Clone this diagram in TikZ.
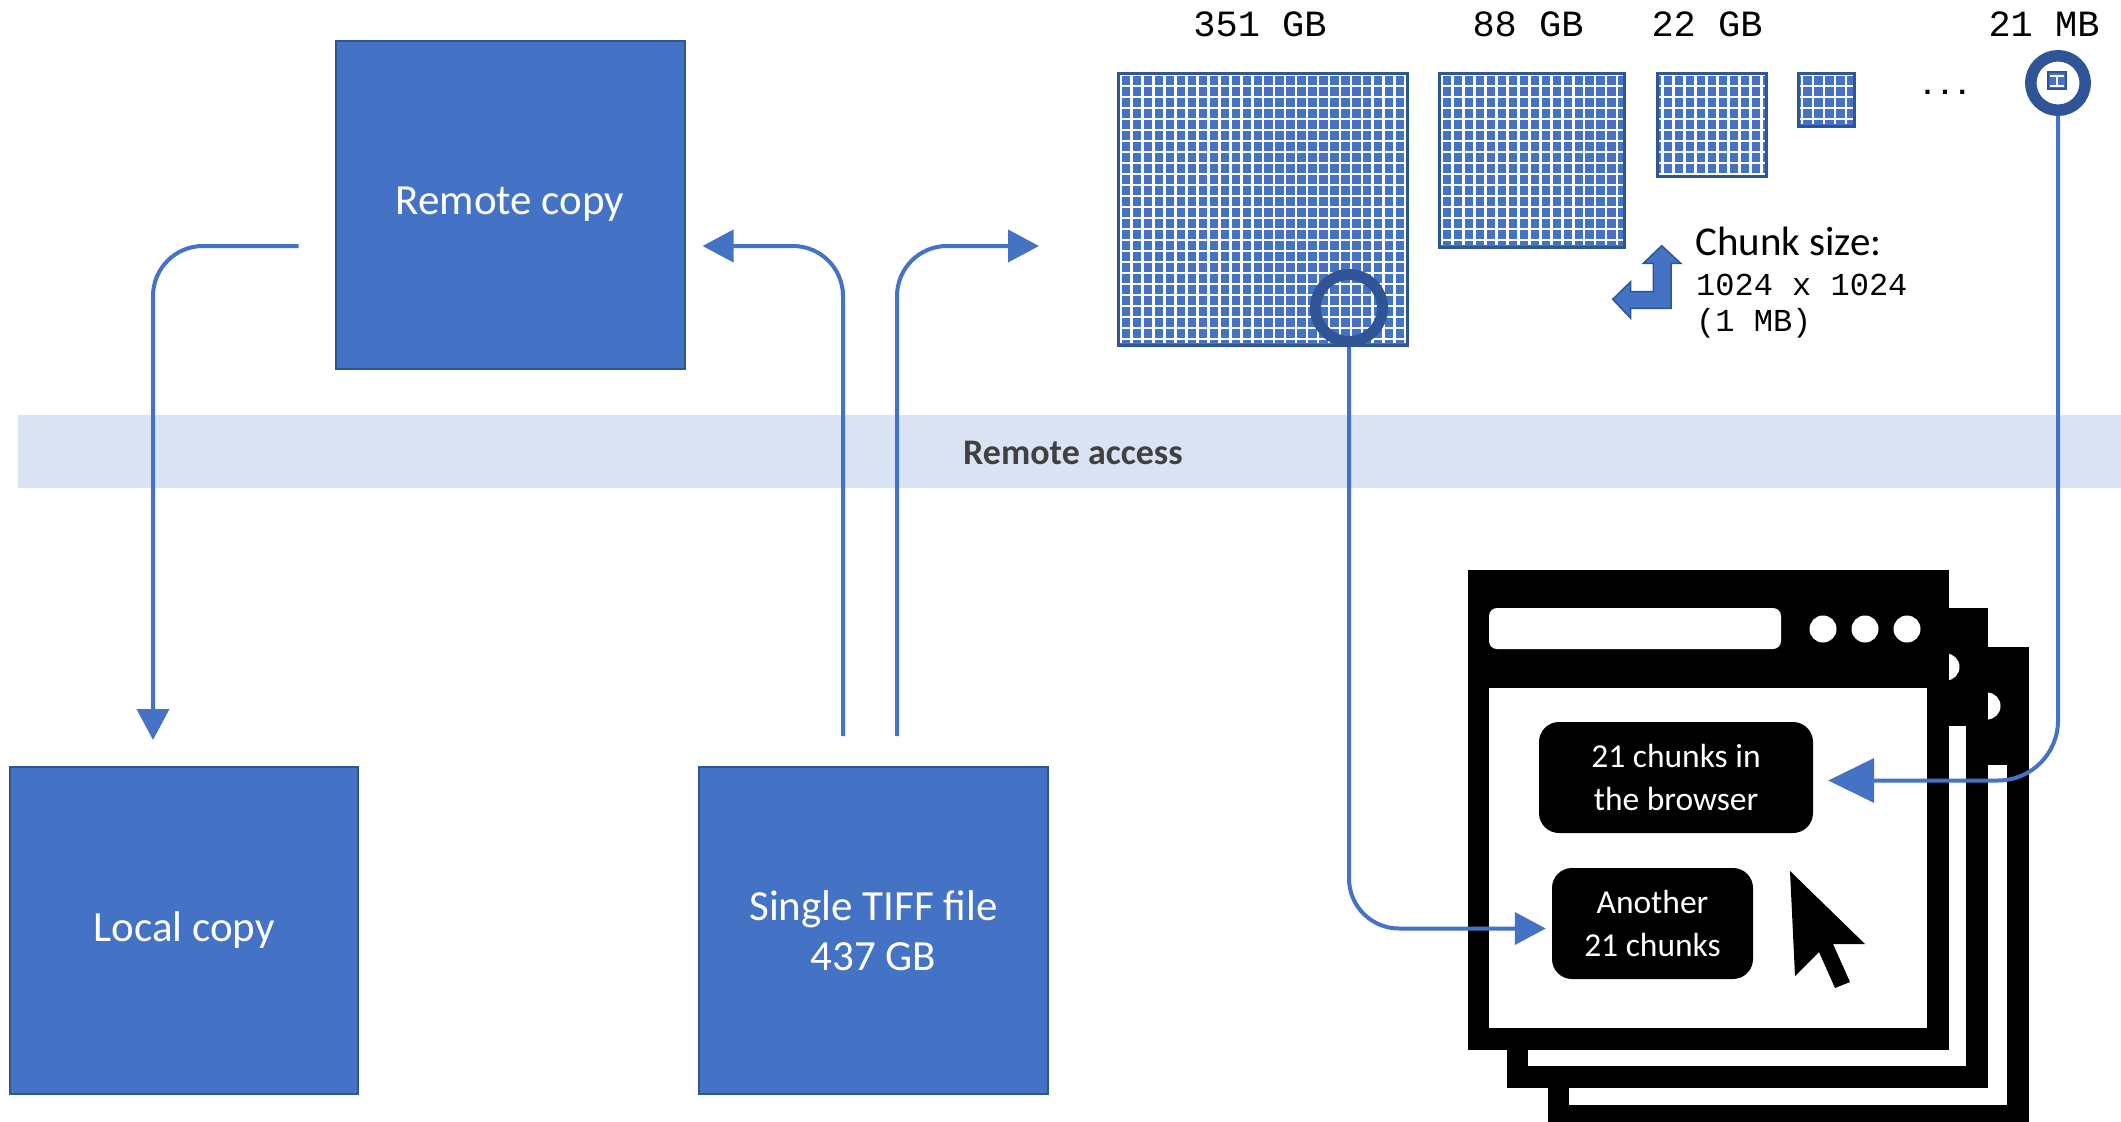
\documentclass[tikz,border=0pt]{standalone}
\usepackage{fontspec}
\setmainfont{Carlito}
\newfontfamily\cmono{Liberation Mono}
\usetikzlibrary{arrows.meta}
\definecolor{bluefill}{HTML}{4472C4}
\definecolor{blueedge}{HTML}{2F5597}
\definecolor{bandblue}{HTML}{DAE3F3}
\tikzset{
  bigbox/.style={draw=blueedge,line width=2pt,fill=bluefill,text=white,align=center,inner sep=0pt,
     font=\fontsize{43}{50}\selectfont},
  blackbox/.style={fill=black,text=white,align=center,inner sep=0pt,rounded corners=20pt,
     font=\fontsize{33.5}{43}\selectfont},
  ringmark/.style={draw=blueedge,circle,inner sep=0pt},
  flow/.style={draw=bluefill,line width=4pt,rounded corners=50pt,-{Triangle[length=31pt,width=32pt]}},
  sizelabel/.style={font=\cmono\fontsize{37}{40}\selectfont,inner sep=0pt},
  chunklabel/.style={font=\cmono\fontsize{32}{36}\selectfont,inner sep=0pt,anchor=west},
  gridcell/.style={fill=bluefill,draw=blueedge,line width=3pt},
  gridline/.style={draw=white,line width=2.7pt}
}
\newcommand{\pyrgrid}[8]{% x0 y0 x1 y1 xoffset ncols nrows name
  \fill[bluefill] (#1,#2) rectangle (#3,#4);
  \foreach \k in {0,...,#6}{\draw[gridline] ({#1+#5+10.97*\k},{#2+1}) -- ({#1+#5+10.97*\k},{#4-2});}
  \foreach \k in {0,...,#7}{\draw[gridline] ({#1+1},{#2+2+11*\k}) -- ({#3-1},{#2+2+11*\k});}
  \draw[blueedge,line width=3pt] (#1,#2) rectangle (#3,#4);
  \coordinate (#8) at ({(#1+#3)/2},{(#2+#4)/2});
}
\newcommand{\browserwin}[2]{%
  \begin{scope}[shift={(#1,#2)}]
    \fill[black] (1468,570) rectangle (1949,1050);
    \fill[white] (1489,688) rectangle (1927,1028);
    \fill[white,rounded corners=8pt] (1489,608) rectangle (1781,649);
    \fill[white] (1823,629) circle[radius=13.5pt];
    \fill[white] (1865,629) circle[radius=13.5pt];
    \fill[white] (1907,629) circle[radius=13.5pt];
  \end{scope}
}
\begin{document}
\begin{tikzpicture}[x=1pt,y=-1pt]
\useasboundingbox (0,0) rectangle (2121,1122);
\clip (0,0) rectangle (2121,1122);
% band
\node[fill=bandblue,inner sep=0pt,minimum width=2103pt,minimum height=73pt] (band) at (1069.5,451.5) {};
\node[inner sep=0pt,text=black!75,font=\bfseries\fontsize{36}{40}\selectfont] (bandlabel) at (1073,453) {Remote access};
% main boxes
\node[bigbox,minimum width=349pt,minimum height=328pt] (remote) at (510,204.5) {Remote copy};
\node[bigbox,minimum width=348pt,minimum height=327pt] (local) at (184,930.5) {Local copy};
\node[bigbox,minimum width=349pt,minimum height=327pt] (tiff) at (873.5,930.5) {Single TIFF file\\437 GB};
% pyramid
\pyrgrid{1118}{73}{1407}{345}{2.5}{26}{24}{g1}
\pyrgrid{1439}{73}{1624}{247}{2.5}{16}{15}{g2}
\pyrgrid{1657}{73}{1766}{176}{5.5}{9}{9}{g3}
\pyrgrid{1798}{73}{1854}{126}{4}{4}{4}{g4}
\fill[bluefill] (2048,72) rectangle (2066,89);
\draw[gridline,line width=1.5pt] (2050,76) -- (2064,76);
\draw[gridline,line width=1.5pt] (2050,86) -- (2064,86);
\draw[gridline,line width=1.5pt] (2057,76) -- (2057,86);
\draw[blueedge,line width=1.5pt] (2048,72) rectangle (2066,89);
\node[sizelabel] (l1) at (1260,24) {351 GB};
\node[sizelabel] (l2) at (1528,24) {88 GB};
\node[sizelabel] (l3) at (1707,24) {22 GB};
\node[sizelabel] (l4) at (2044,24) {21 MB};
\node[font=\cmono\bfseries\fontsize{29}{32}\selectfont,inner sep=0pt] (dots) at (1945,92) {...};
% chunk text and bent arrow
\node[inner sep=0pt,anchor=west,font=\fontsize{41}{46}\selectfont] (chunk) at (1695,241) {Chunk size:};
\node[chunklabel] (chunka) at (1696,285) {1024 x 1024};
\node[chunklabel] (chunkb) at (1696,323) {(1 MB)};
\draw[blueedge,fill=bluefill,line width=1.5pt] (1661.7,245.7) -- (1680.7,263.3) -- (1671,263.3) -- (1671,308.3) -- (1630.7,308.3) -- (1630.7,318.3) -- (1612.7,299.3) -- (1630.7,281.7) -- (1630.7,291.7) -- (1653.3,291.7) -- (1653.3,263.3) -- (1643.3,263.3) -- cycle;
% browser windows
\browserwin{80}{77}
\browserwin{39}{38}
\browserwin{0}{0}
\node[blackbox,minimum width=274pt,minimum height=111pt] (chunksa) at (1676,777.5) {21 chunks in\\the browser};
\node[blackbox,minimum width=201pt,minimum height=111pt] (chunksb) at (1652.5,923.5) {Another\\21 chunks};
\fill[black] (1790,871) -- (1865,944) -- (1833,944) -- (1850,982) -- (1835,988) -- (1819,952) -- (1795,976) -- cycle;
% rings
\node[ringmark,line width=11pt,minimum size=67pt] (ringa) at (1349,308) {};
\node[ringmark,line width=11.5pt,minimum size=54.5pt] (ringb) at (2058,83) {};
% connectors
\coordinate (remoteout) at ([xshift=-36pt,yshift=-41.5pt]remote.west);
\coordinate (localin) at ([xshift=-31pt,yshift=26pt]local.north);
\coordinate (tiffa) at ([xshift=-30.5pt,yshift=30pt]tiff.north);
\coordinate (tiffb) at ([xshift=23.5pt,yshift=30pt]tiff.north);
\coordinate (remotein) at ([xshift=17pt,yshift=-41.5pt]remote.east);
\coordinate (pyrin) at (1039,246);
\coordinate (chunksain) at ([xshift=15pt,yshift=-3pt]chunksa.east);
\coordinate (chunksbin) at ([xshift=-6pt,yshift=-5pt]chunksb.west);
\draw[flow] (remoteout) -| (localin);
\draw[flow] (tiffa) |- (remotein);
\draw[flow] (tiffb) |- (pyrin);
\draw[flow] (ringa.south) |- (chunksbin);
\draw[flow,rounded corners=60pt,-{Triangle[length=46pt,width=44pt]}] (ringb.south) |- (chunksain);
\end{tikzpicture}
\end{document}
